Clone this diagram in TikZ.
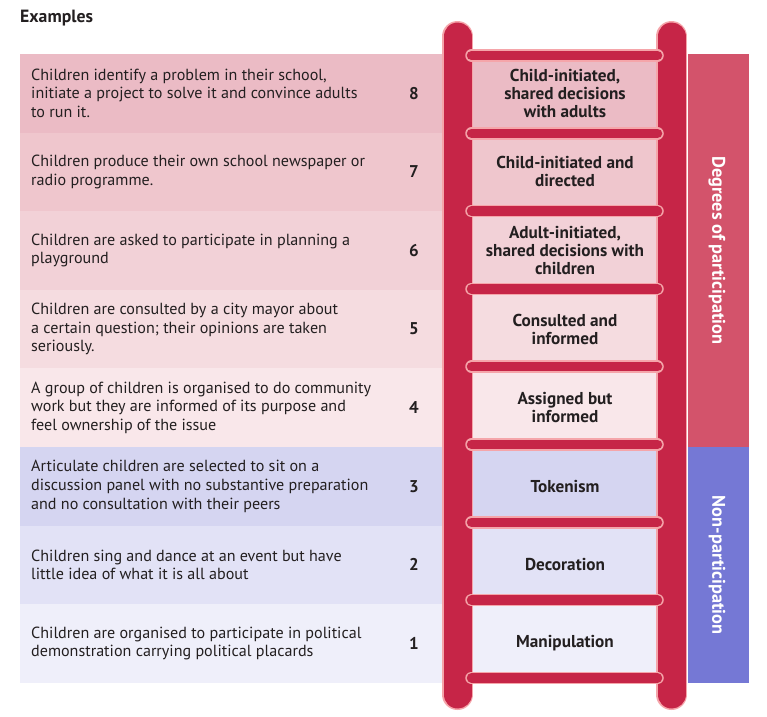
\documentclass[tikz,border=0pt]{standalone}
\usepackage{fontspec}
\setmainfont{PT Sans}

% colours of the ladder and the rows
\definecolor{ink}{HTML}{231F20}
\definecolor{railred}{HTML}{C62547}
\definecolor{railpink}{HTML}{F5A5AA}
\definecolor{degband}{HTML}{D3536B}
\definecolor{nonband}{HTML}{7578D5}
\definecolor{rowA}{HTML}{EBBBC5}
\definecolor{rowB}{HTML}{EFC6CD}
\definecolor{rowC}{HTML}{F2D1D7}
\definecolor{rowD}{HTML}{F5DCE0}
\definecolor{rowE}{HTML}{F9E7EA}
\definecolor{rowF}{HTML}{D5D5F1}
\definecolor{rowG}{HTML}{E2E2F6}
\definecolor{rowH}{HTML}{EFEFFA}

\begin{document}
\begin{tikzpicture}[x=1pt, y=-1pt,
    rowtext/.style={anchor=west, align=left, inner sep=0pt, text=ink,
        font=\fontsize{16.1}{18.7}\selectfont},
    rownum/.style={inner sep=0pt, text=ink, font=\bfseries\fontsize{17}{18}\selectfont},
    levellabel/.style={align=center, inner sep=0pt, text=ink,
        font=\bfseries\fontsize{17.2}{18}\selectfont},
    bandlabel/.style={rotate=-90, inner sep=0pt, text=white,
        font=\bfseries\fontsize{18.3}{20}\selectfont}]
    \useasboundingbox (0,0) rectangle (767,716);
    \node[anchor=west, inner sep=0pt, text=ink, font=\bfseries\fontsize{17.7}{20}\selectfont]
        (title) at (20,18) {Examples};

    % rows of examples, from 8 (top) down to 1
    \foreach \i/\col/\txt/\lbl in {
        0/rowA/{Children identify a problem in their school,\\initiate a project to solve it and convince adults\\to run it.}/{Child-initiated,\\shared decisions\\with adults},
        1/rowB/{Children produce their own school newspaper or\\radio programme.}/{Child-initiated and\\directed},
        2/rowC/{Children are asked to participate in planning a\\playground}/{Adult-initiated,\\shared decisions with\\children},
        3/rowD/{Children are consulted by a city mayor about\\a certain question; their opinions are taken\\seriously.}/{Consulted and\\informed},
        4/rowE/{A group of children is organised to do community\\work but they are informed of its purpose and\\feel ownership of the issue}/{Assigned but\\informed},
        5/rowF/{Articulate children are selected to sit on a\\discussion panel with no substantive preparation\\and no consultation with their peers}/{Tokenism},
        6/rowG/{Children sing and dance at an event but have\\little idea of what it is all about}/{Decoration},
        7/rowH/{Children are organised to participate in political\\demonstration carrying political placards}/{Manipulation}} {
        \pgfmathsetmacro\top{54+78.6*\i}
        \pgfmathsetmacro\mid{\top+39.3}
        \pgfmathtruncatemacro\n{8-\i}
        \fill[\col] (20,\top) rectangle (672,\top+78.6);
        \node[rowtext] (ex\n) at (31,\mid) {\txt};
        \node[rownum] (num\n) at (414,\mid) {\n};
        \node[levellabel] (lvl\n) at (565,\mid) {\lbl};
    }

    % bands on the right
    \fill[degband] (688,54) rectangle (749,447);
    \fill[nonband] (688,447) rectangle (749,683);
    \node[bandlabel] (degrees) at (717,250.5) {Degrees of participation};
    \node[bandlabel] (nonpart) at (717,565) {Non-participation};

    % ladder rails
    \foreach \x in {457.5, 671.5} {
        \draw[railpink, line width=31, line cap=round] (\x,36.5) -- (\x,694.5);
        \draw[railred, line width=28, line cap=round] (\x,36.5) -- (\x,694.5);
    }
    % rungs
    \foreach \j in {0,...,8} {
        \pgfmathsetmacro\ry{55.5+77.8*\j}
        \draw[railpink, line width=12.5, line cap=round] (471.5,\ry) -- (657.5,\ry);
        \draw[railred, line width=9.5, line cap=round] (471.5,\ry) -- (657.5,\ry);
    }
\end{tikzpicture}
\end{document}
